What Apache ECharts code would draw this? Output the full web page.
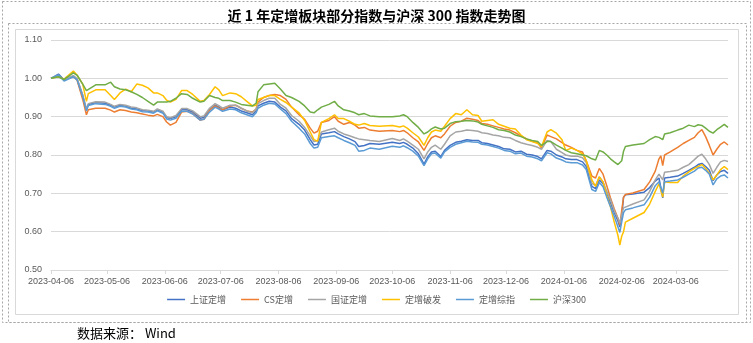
<!DOCTYPE html>
<html>
<head>
<meta charset="utf-8">
<script src="https://cdn.jsdelivr.net/npm/echarts@6/dist/echarts.min.js"></script>
<style>
  html, body { margin: 0; padding: 0; background: #fff; }
  #chart { width: 753px; height: 343px; }
</style>
</head>
<body>
<div id="chart"></div>
<script>
// sample dates (trading days)
var dates = [
  '2023-04-06','2023-04-10','2023-04-13','2023-04-18','2023-04-20','2023-04-23','2023-04-25','2023-04-26','2023-04-30','2023-05-05',
  '2023-05-08','2023-05-10','2023-05-13','2023-05-16','2023-05-19','2023-05-22','2023-05-25','2023-05-28','2023-05-31','2023-06-02',
  '2023-06-05','2023-06-07','2023-06-09','2023-06-12','2023-06-15','2023-06-18','2023-06-21','2023-06-25','2023-06-27','2023-06-30',
  '2023-07-03','2023-07-05','2023-07-07','2023-07-11','2023-07-14','2023-07-17','2023-07-20','2023-07-23','2023-07-25','2023-07-26',
  '2023-07-29','2023-08-01','2023-08-04','2023-08-07','2023-08-10','2023-08-13','2023-08-17','2023-08-20','2023-08-23','2023-08-25',
  '2023-08-27','2023-08-29','2023-09-02','2023-09-05','2023-09-07','2023-09-10','2023-09-13','2023-09-16','2023-09-18','2023-09-21',
  '2023-09-24','2023-09-29','2023-10-06','2023-10-10','2023-10-12','2023-10-14','2023-10-17','2023-10-20','2023-10-23','2023-10-25',
  '2023-10-27','2023-10-29','2023-11-01','2023-11-03','2023-11-06','2023-11-09','2023-11-12','2023-11-15','2023-11-18','2023-11-21',
  '2023-11-23','2023-11-26','2023-11-29','2023-12-02','2023-12-05','2023-12-08','2023-12-11','2023-12-14','2023-12-17','2023-12-20',
  '2023-12-23','2023-12-25','2023-12-26','2023-12-28','2023-12-30','2024-01-02','2024-01-05','2024-01-07','2024-01-10','2024-01-13',
  '2024-01-16','2024-01-18','2024-01-21','2024-01-23','2024-01-25','2024-01-27','2024-01-29','2024-01-31','2024-02-02','2024-02-04',
  '2024-02-05','2024-02-06','2024-02-07','2024-02-08','2024-02-12','2024-02-18','2024-02-21','2024-02-24','2024-02-26','2024-02-27',
  '2024-02-28','2024-02-29','2024-03-03','2024-03-07','2024-03-10','2024-03-13','2024-03-16','2024-03-18','2024-03-20','2024-03-22',
  '2024-03-24','2024-03-26','2024-03-28','2024-03-30','2024-04-01','2024-04-03'
];

var szdz = [
  1.000,1.011,0.996,1.006,0.998,0.955,0.918,0.932,0.937,0.935,
  0.930,0.925,0.930,0.928,0.922,0.920,0.916,0.915,0.912,0.918,
  0.912,0.898,0.895,0.900,0.918,0.918,0.912,0.896,0.898,0.918,
  0.930,0.925,0.918,0.925,0.922,0.915,0.910,0.905,0.915,0.928,
  0.935,0.940,0.938,0.925,0.915,0.895,0.880,0.865,0.840,0.826,
  0.828,0.855,0.858,0.861,0.855,0.848,0.842,0.835,0.822,0.825,
  0.830,0.828,0.833,0.830,0.833,0.828,0.818,0.803,0.776,0.795,
  0.808,0.810,0.796,0.812,0.825,0.833,0.836,0.840,0.838,0.838,
  0.832,0.830,0.826,0.822,0.816,0.815,0.808,0.810,0.802,0.800,
  0.796,0.790,0.786,0.812,0.810,0.800,0.795,0.790,0.788,0.788,
  0.782,0.770,0.718,0.712,0.735,0.725,0.700,0.675,0.650,0.628,
  0.612,0.640,0.690,0.696,0.698,0.703,0.715,0.732,0.740,0.742,
  0.688,0.740,0.742,0.745,0.752,0.760,0.768,0.775,0.778,0.770,
  0.760,0.733,0.748,0.757,0.760,0.752
];
var csdz = [
  1.000,1.006,0.997,1.005,0.995,0.945,0.905,0.918,0.922,0.922,
  0.917,0.912,0.918,0.916,0.912,0.910,0.907,0.904,0.902,0.906,
  0.900,0.886,0.878,0.885,0.912,0.914,0.908,0.891,0.893,0.917,
  0.928,0.922,0.918,0.928,0.930,0.922,0.915,0.912,0.920,0.938,
  0.950,0.955,0.958,0.955,0.945,0.925,0.905,0.893,0.870,0.857,
  0.862,0.885,0.890,0.900,0.888,0.880,0.885,0.878,0.870,0.872,
  0.865,0.862,0.864,0.861,0.864,0.858,0.845,0.834,0.812,0.830,
  0.845,0.850,0.845,0.855,0.875,0.885,0.888,0.896,0.893,0.890,
  0.882,0.880,0.876,0.872,0.868,0.865,0.858,0.850,0.842,0.836,
  0.832,0.818,0.815,0.852,0.848,0.842,0.832,0.826,0.820,0.812,
  0.808,0.785,0.745,0.740,0.765,0.750,0.720,0.688,0.660,0.635,
  0.617,0.655,0.690,0.697,0.701,0.710,0.730,0.758,0.790,0.798,
  0.772,0.800,0.808,0.820,0.830,0.838,0.846,0.858,0.866,0.848,
  0.825,0.800,0.815,0.828,0.834,0.826
];
var gzdz = [
  1.000,1.008,0.997,1.007,0.999,0.957,0.920,0.934,0.939,0.938,
  0.932,0.927,0.932,0.930,0.925,0.923,0.918,0.917,0.914,0.920,
  0.914,0.900,0.897,0.903,0.921,0.921,0.915,0.900,0.902,0.922,
  0.934,0.929,0.922,0.930,0.930,0.922,0.915,0.910,0.920,0.934,
  0.942,0.948,0.948,0.932,0.922,0.903,0.888,0.872,0.850,0.835,
  0.838,0.860,0.866,0.870,0.862,0.855,0.850,0.845,0.842,0.840,
  0.838,0.835,0.843,0.838,0.842,0.836,0.826,0.815,0.790,0.808,
  0.820,0.826,0.815,0.828,0.850,0.860,0.862,0.865,0.864,0.862,
  0.858,0.856,0.852,0.850,0.846,0.845,0.838,0.832,0.828,0.825,
  0.820,0.815,0.812,0.838,0.835,0.815,0.806,0.800,0.797,0.797,
  0.793,0.780,0.726,0.720,0.743,0.730,0.705,0.683,0.655,0.635,
  0.622,0.645,0.662,0.667,0.672,0.683,0.705,0.735,0.750,0.752,
  0.735,0.755,0.757,0.760,0.768,0.775,0.788,0.797,0.802,0.790,
  0.775,0.752,0.768,0.782,0.786,0.783
];
var dzpf = [
  1.000,1.004,0.998,1.019,1.008,0.985,0.940,0.960,0.970,0.970,
  0.955,0.945,0.962,0.972,0.965,0.985,0.982,0.975,0.962,0.962,
  0.955,0.943,0.938,0.945,0.968,0.968,0.958,0.940,0.942,0.958,
  0.978,0.970,0.955,0.962,0.960,0.952,0.940,0.928,0.930,0.945,
  0.950,0.955,0.955,0.945,0.937,0.925,0.910,0.890,0.860,0.840,
  0.836,0.885,0.895,0.905,0.895,0.895,0.888,0.880,0.878,0.882,
  0.877,0.875,0.877,0.873,0.876,0.870,0.858,0.847,0.825,0.845,
  0.860,0.865,0.862,0.875,0.895,0.908,0.905,0.918,0.905,0.903,
  0.888,0.890,0.892,0.880,0.875,0.870,0.868,0.852,0.840,0.835,
  0.830,0.822,0.817,0.860,0.866,0.857,0.840,0.812,0.818,0.812,
  0.803,0.785,0.735,0.718,0.743,0.730,0.695,0.665,0.625,0.590,
  0.565,0.588,0.600,0.625,0.635,0.650,0.672,0.705,0.725,0.728,
  0.690,0.730,0.728,0.728,0.745,0.756,0.765,0.770,0.775,0.765,
  0.752,0.735,0.748,0.762,0.770,0.762
];
var dzzz = [
  1.000,1.009,0.993,1.004,0.996,0.952,0.915,0.929,0.934,0.932,
  0.927,0.922,0.927,0.925,0.920,0.918,0.913,0.912,0.909,0.915,
  0.909,0.894,0.891,0.896,0.914,0.914,0.907,0.891,0.893,0.912,
  0.925,0.920,0.914,0.920,0.918,0.910,0.905,0.900,0.910,0.922,
  0.930,0.935,0.933,0.920,0.908,0.888,0.870,0.855,0.830,0.818,
  0.820,0.845,0.848,0.850,0.845,0.838,0.832,0.825,0.810,0.812,
  0.818,0.815,0.823,0.820,0.824,0.819,0.810,0.797,0.772,0.790,
  0.803,0.805,0.792,0.808,0.820,0.828,0.832,0.836,0.834,0.833,
  0.828,0.826,0.822,0.818,0.812,0.810,0.803,0.805,0.797,0.795,
  0.790,0.785,0.781,0.806,0.803,0.792,0.787,0.782,0.780,0.780,
  0.774,0.762,0.710,0.705,0.728,0.717,0.690,0.665,0.640,0.612,
  0.598,0.625,0.650,0.657,0.662,0.670,0.690,0.720,0.730,0.733,
  0.700,0.730,0.732,0.735,0.742,0.750,0.758,0.766,0.768,0.760,
  0.750,0.722,0.738,0.745,0.748,0.740
];
var hs300 = [
  1.000,1.004,0.997,1.014,1.008,0.985,0.968,0.966,0.983,0.983,
  0.990,0.978,0.972,0.970,0.965,0.958,0.950,0.940,0.930,0.938,
  0.938,0.938,0.940,0.948,0.960,0.958,0.948,0.938,0.940,0.955,
  0.950,0.948,0.942,0.942,0.938,0.932,0.930,0.928,0.935,0.965,
  0.983,0.985,0.987,0.972,0.955,0.950,0.940,0.928,0.912,0.910,
  0.918,0.925,0.932,0.940,0.928,0.918,0.915,0.910,0.905,0.908,
  0.902,0.900,0.900,0.902,0.905,0.900,0.885,0.872,0.855,0.860,
  0.868,0.873,0.868,0.870,0.882,0.887,0.888,0.890,0.889,0.886,
  0.880,0.876,0.872,0.866,0.864,0.860,0.852,0.848,0.842,0.838,
  0.835,0.825,0.822,0.835,0.835,0.826,0.818,0.812,0.806,0.803,
  0.800,0.798,0.790,0.787,0.812,0.808,0.800,0.790,0.782,0.775,
  0.776,0.785,0.810,0.822,0.826,0.830,0.840,0.848,0.846,0.850,
  0.840,0.855,0.858,0.865,0.870,0.878,0.874,0.879,0.877,0.870,
  0.862,0.857,0.866,0.873,0.880,0.872
];

var seriesNames = ['上证定增', 'CS定增', '国证定增', '定增破发', '定增综指', '沪深300'];
var seriesData = [szdz, csdz, gzdz, dzpf, dzzz, hs300];
var colors = ['#4472C4', '#ED7D31', '#A5A5A5', '#FFC000', '#5B9BD5', '#70AD47'];

// date axis: every calendar day from first to last date
var days = [];
var dayIndex = {};
(function () {
  var d = new Date(Date.UTC(2023, 3, 6));
  var end = new Date(Date.UTC(2024, 3, 3));
  while (d <= end) {
    var s = d.toISOString().slice(0, 10);
    dayIndex[s] = days.length;
    days.push(s);
    d.setUTCDate(d.getUTCDate() + 1);
  }
})();

function isTick(idx, val) {
  return val.slice(8) === '06';
}

var series = seriesNames.map(function (name, k) {
  return {
    name: name,
    type: 'line',
    showSymbol: false,
    symbol: 'none',
    lineStyle: { width: 1.5, color: colors[k] },
    itemStyle: { color: colors[k] },
    data: dates.map(function (dt, i) { return [dayIndex[dt], seriesData[k][i]]; })
  };
});

var myChart = echarts.init(document.getElementById('chart'), null, { renderer: 'canvas' });
var option = {
  animation: false,
  backgroundColor: '#fff',
  title: {
    text: '近 1 年定增板块部分指数与沪深 300 指数走势图',
    left: 'center',
    top: 4,
    textStyle: {
      fontSize: 14,
      fontWeight: 'bold',
      color: '#000',
      fontFamily: 'Noto Sans CJK SC'
    }
  },
  graphic: [
    {
      type: 'rect', shape: { x: 2.5, y: 1.5, width: 748, height: 321 },
      style: { fill: null, stroke: '#a6a6a6', lineWidth: 1, lineDash: [2, 2] }, silent: true
    },
    {
      type: 'rect', shape: { x: 8.5, y: 23.5, width: 738, height: 299 },
      style: { fill: null, stroke: '#a6a6a6', lineWidth: 1, lineDash: [2, 2] }, silent: true
    },
    {
      type: 'rect', shape: { x: 15.5, y: 29.5, width: 723, height: 285 },
      style: { fill: null, stroke: '#d9d9d9', lineWidth: 1 }, silent: true
    },
    {
      type: 'text', left: 77, top: 327,
      style: { text: '数据来源： Wind', fill: '#000', fontSize: 13, fontFamily: 'Noto Sans CJK SC' }
    }
  ],
  legend: {
    data: seriesNames,
    left: 'center',
    top: 290,
    icon: 'rect',
    itemWidth: 18,
    itemHeight: 1.5,
    itemGap: 15,
    itemStyle: { borderWidth: 0 },
    textStyle: { fontSize: 9, color: '#595959', fontFamily: 'Noto Sans CJK SC' }
  },
  grid: { left: 51, right: 25, top: 40, bottom: 73 },
  xAxis: {
    type: 'category',
    data: days,
    boundaryGap: false,
    axisLine: { lineStyle: { color: '#d9d9d9' } },
    axisTick: { show: true, interval: isTick, length: 4, lineStyle: { color: '#d9d9d9' } },
    axisLabel: {
      interval: isTick,
      margin: 7,
      fontSize: 9,
      color: '#595959',
      fontFamily: 'Liberation Sans'
    },
    splitLine: { show: false }
  },
  yAxis: {
    type: 'value',
    min: 0.5,
    max: 1.1,
    interval: 0.1,
    axisLine: { show: false },
    axisTick: { show: false },
    axisLabel: {
      fontSize: 9,
      color: '#595959',
      margin: 9,
      fontFamily: 'Liberation Sans',
      formatter: function (v) { return v.toFixed(2); }
    },
    splitLine: { lineStyle: { color: '#d9d9d9' } }
  },
  series: series
};
myChart.setOption(option);
</script>
</body>
</html>
